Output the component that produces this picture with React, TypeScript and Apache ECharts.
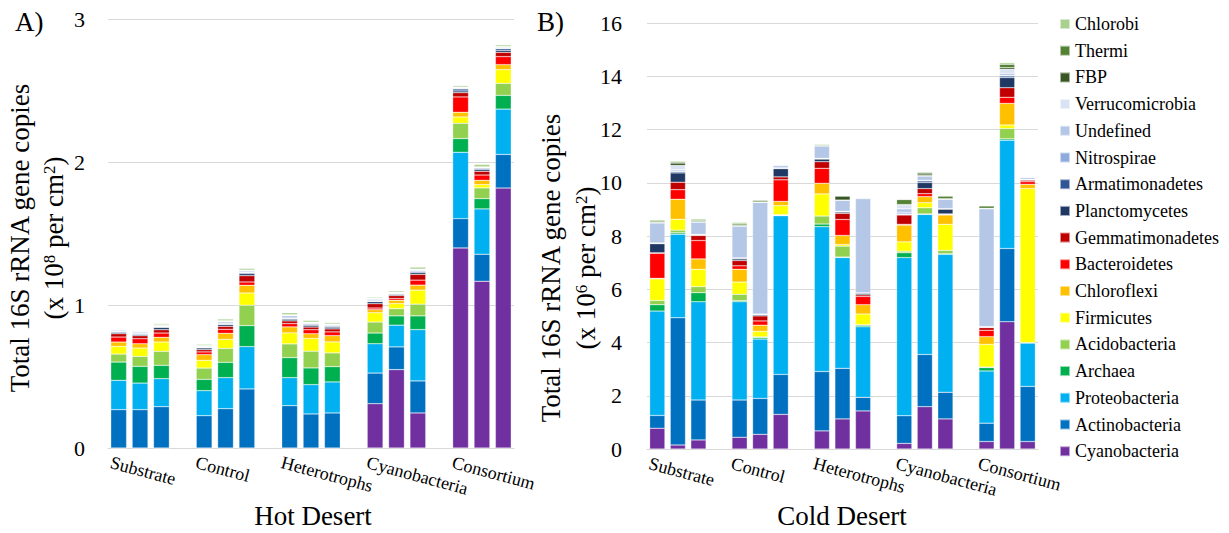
import React, { useEffect, useRef } from "react";
import * as echarts from "echarts";

const phyla = [
  "Cyanobacteria", "Actinobacteria", "Proteobacteria", "Archaea", "Acidobacteria",
  "Firmicutes", "Chloroflexi", "Bacteroidetes", "Gemmatimonadetes", "Planctomycetes",
  "Armatimonadetes", "Nitrospirae", "Undefined", "Verrucomicrobia", "FBP", "Thermi", "Chlorobi",
];
const phylaColors = [
  "#7030A0", "#0070C0", "#00B0F0", "#00B050", "#92D050",
  "#FFFF00", "#FFC000", "#FF0000", "#C00000", "#1F3864",
  "#2F5597", "#8FAADC", "#B4C7E7", "#DAE3F3", "#375623", "#548235", "#A9D18E",
];
const groups = ["Substrate", "Control", "Heterotrophs", "Cyanobacteria", "Consortium"];
const replicates = ["1", "2", "3"];
const hotTicks = [0, 1, 2, 3];
const coldTicks = [0, 2, 4, 6, 8, 10, 12, 14, 16];

// Hot desert (x 10^8 per cm2), bars: S1,S2,S3,C1,C2,C3,H1,H2,H3,Y1,Y2,Y3,K1,K2,K3
const hotCyanobacteria = [0, 0, 0, 0, 0, 0, 0, 0, 0, 0.31, 0.548, 0.245, 1.399, 1.166, 1.818];
const hotActinobacteria = [0.268, 0.268, 0.289, 0.226, 0.275, 0.413, 0.296, 0.238, 0.245, 0.214, 0.159, 0.224, 0.205, 0.189, 0.235];
const hotProteobacteria = [0.205, 0.186, 0.196, 0.175, 0.217, 0.296, 0.196, 0.205, 0.217, 0.205, 0.152, 0.359, 0.464, 0.317, 0.317];
const hotArchaea = [0.128, 0.117, 0.093, 0.079, 0.107, 0.147, 0.14, 0.117, 0.107, 0.075, 0.065, 0.096, 0.096, 0.072, 0.096];
const hotAcidobacteria = [0.056, 0.07, 0.098, 0.079, 0.098, 0.142, 0.096, 0.117, 0.096, 0.077, 0.051, 0.082, 0.107, 0.075, 0.084];
const hotFirmicutes = [0.054, 0.058, 0.065, 0.054, 0.063, 0.086, 0.077, 0.089, 0.077, 0.065, 0.035, 0.098, 0.044, 0.023, 0.096];
const hotChloroflexi = [0.03, 0.03, 0.033, 0.04, 0.042, 0.054, 0.042, 0.033, 0.044, 0.021, 0.023, 0.035, 0.033, 0.03, 0.035];
const hotBacteroidetes = [0.035, 0.035, 0.03, 0.019, 0.028, 0.023, 0.023, 0.028, 0.026, 0.012, 0.012, 0.035, 0.107, 0.037, 0.056];
const hotGemmatimonadetes = [0.023, 0.021, 0.023, 0.016, 0.021, 0.044, 0.019, 0.019, 0.021, 0.03, 0.021, 0.04, 0.03, 0.026, 0.03];
const hotPlanctomycetes = [0.009, 0.008, 0.016, 0.012, 0.012, 0.014, 0.012, 0.012, 0.012, 0.014, 0.008, 0.012, 0.012, 0.012, 0.014];
const hotArmatimonadetes = [0.005, 0.005, 0.004, 0.003, 0.004, 0.007, 0.004, 0.006, 0.006, 0.004, 0.004, 0.007, 0.014, 0.009, 0.012];
const hotNitrospirae = [0.004, 0.005, 0.002, 0.003, 0.006, 0.003, 0.004, 0.006, 0.006, 0.003, 0.002, 0.007, 0.003, 0.002, 0.003];
const hotUndefined = [0.007, 0.008, 0.003, 0.005, 0.01, 0.009, 0.016, 0.004, 0.004, 0.01, 0.004, 0.005, 0.005, 0.003, 0.003];
const hotVerrucomicrobia = [0.004, 0.006, 0.002, 0.003, 0.004, 0.003, 0.004, 0.003, 0.003, 0.004, 0.003, 0.003, 0.002, 0.002, 0.002];
const hotFBP = [0.001, 0.001, 0.004, 0.001, 0.001, 0.001, 0.001, 0.001, 0.001, 0.001, 0.001, 0.001, 0.001, 0.001, 0.004];
const hotThermi = [0.002, 0.002, 0.004, 0.002, 0.002, 0.002, 0.002, 0.002, 0.002, 0.002, 0.002, 0.002, 0.002, 0.002, 0.003];
const hotChlorobi = [0.003, 0.004, 0.008, 0.008, 0.012, 0.012, 0.014, 0.012, 0.01, 0.007, 0.009, 0.014, 0.01, 0.017, 0.011];

// Cold desert (x 10^6 per cm2)
const coldCyanobacteria = [0.78, 0.15, 0.34, 0.44, 0.55, 1.3, 0.68, 1.13, 1.43, 0.21, 1.59, 1.13, 0.28, 4.78, 0.28];
const coldActinobacteria = [0.48, 4.78, 1.5, 1.4, 1.35, 1.5, 2.23, 1.9, 0.51, 1.04, 1.96, 1.0, 0.69, 2.75, 2.07];
const coldProteobacteria = [3.92, 3.14, 3.69, 3.69, 2.23, 5.96, 5.44, 4.16, 2.65, 5.94, 5.26, 5.18, 1.96, 4.07, 1.63];
const coldArchaea = [0.24, 0.05, 0.34, 0.04, 0.06, 0.02, 0.1, 0.02, 0.06, 0.18, 0.02, 0.02, 0.13, 0.05, 0.01];
const coldAcidobacteria = [0.16, 0.1, 0.23, 0.24, 0.02, 0.02, 0.3, 0.41, 0.02, 0.06, 0.23, 0.13, 0.02, 0.39, 0.01];
const coldFirmicutes = [0.81, 0.41, 0.65, 0.46, 0.21, 0.34, 0.83, 0.06, 0.4, 0.35, 0.19, 0.98, 0.85, 0.13, 5.78];
const coldChloroflexi = [0.02, 0.75, 0.39, 0.48, 0.23, 0.16, 0.4, 0.34, 0.35, 0.63, 0.23, 0.35, 0.29, 0.81, 0.16];
const coldBacteroidetes = [0.94, 0.36, 0.69, 0.13, 0.16, 0.81, 0.56, 0.6, 0.31, 0.03, 0.11, 0.02, 0.24, 0.23, 0.1];
const coldGemmatimonadetes = [0.02, 0.28, 0.19, 0.2, 0.19, 0.11, 0.25, 0.23, 0.06, 0.35, 0.19, 0.02, 0.1, 0.36, 0.06];
const coldPlanctomycetes = [0.34, 0.35, 0.02, 0.06, 0.04, 0.31, 0.1, 0.05, 0.06, 0.02, 0.23, 0.18, 0.02, 0.38, 0.01];
const coldArmatimonadetes = [0.02, 0.05, 0.01, 0.03, 0.02, 0.02, 0.02, 0.02, 0.01, 0.02, 0.06, 0.01, 0.01, 0.06, 0.01];
const coldNitrospirae = [0.01, 0.02, 0.01, 0.01, 0.01, 0.01, 0.01, 0.01, 0.01, 0.06, 0.02, 0.01, 0.01, 0.02, 0.01];
const coldUndefined = [0.75, 0.05, 0.46, 1.19, 4.19, 0.08, 0.46, 0.41, 3.53, 0.13, 0.16, 0.35, 4.42, 0.08, 0.06];
const coldVerrucomicrobia = [0.01, 0.16, 0.01, 0.01, 0.01, 0.04, 0.01, 0.01, 0.04, 0.15, 0.02, 0.01, 0.01, 0.15, 0.03];
const coldFBP = [0.01, 0.09, 0.01, 0.01, 0.01, 0.01, 0.01, 0.15, 0.01, 0.01, 0.06, 0.01, 0.01, 0.06, 0.01];
const coldThermi = [0.05, 0.04, 0.05, 0.06, 0.06, 0.01, 0.03, 0.01, 0.01, 0.19, 0.06, 0.1, 0.09, 0.13, 0.01];
const coldChlorobi = [0.05, 0.04, 0.05, 0.06, 0.02, 0.01, 0.03, 0.01, 0.01, 0.01, 0.02, 0.01, 0.01, 0.06, 0.01];

const hotData = [
  hotCyanobacteria, hotActinobacteria, hotProteobacteria, hotArchaea, hotAcidobacteria,
  hotFirmicutes, hotChloroflexi, hotBacteroidetes, hotGemmatimonadetes, hotPlanctomycetes,
  hotArmatimonadetes, hotNitrospirae, hotUndefined, hotVerrucomicrobia, hotFBP, hotThermi, hotChlorobi,
];
const coldData = [
  coldCyanobacteria, coldActinobacteria, coldProteobacteria, coldArchaea, coldAcidobacteria,
  coldFirmicutes, coldChloroflexi, coldBacteroidetes, coldGemmatimonadetes, coldPlanctomycetes,
  coldArmatimonadetes, coldNitrospirae, coldUndefined, coldVerrucomicrobia, coldFBP, coldThermi, coldChlorobi,
];

const FONT = "Liberation Serif";

// categories: 3 replicates per group with an empty slot between groups
const categories: string[] = [];
groups.forEach((g, gi) => {
  replicates.forEach((r) => categories.push(g + " " + r));
  if (gi < groups.length - 1) categories.push("gap " + gi);
});

function expand(vals: number[]): (number | string)[] {
  const out: (number | string)[] = [];
  groups.forEach((_, gi) => {
    for (let r = 0; r < replicates.length; r++) out.push(vals[gi * replicates.length + r]);
    if (gi < groups.length - 1) out.push("-");
  });
  return out;
}

export default function App() {
  const ref = useRef<HTMLDivElement>(null);
  useEffect(() => {
    if (!ref.current) return;
    document.body.style.margin = "0";
    const chart = echarts.init(ref.current, null, { renderer: "svg" });

    const series: any[] = [];
    phyla.forEach((p, i) => {
      const common = {
        type: "bar",
        name: p,
        barWidth: "74%",
        itemStyle: { color: phylaColors[i], borderColor: "rgba(255,255,255,0.55)", borderWidth: 0.5 },
        emphasis: { disabled: true },
      };
      series.push({ ...common, xAxisIndex: 0, yAxisIndex: 0, stack: "hot", data: expand(hotData[i]) });
      series.push({ ...common, xAxisIndex: 1, yAxisIndex: 1, stack: "cold", data: expand(coldData[i]) });
    });

    const xAxisBase = {
      type: "category",
      data: categories,
      axisTick: { show: false },
      axisLabel: { show: false },
      axisLine: { show: true, lineStyle: { color: "#d9d9d9", width: 1 } },
    };
    const yAxisBase = {
      type: "value",
      min: 0,
      axisLine: { show: false },
      axisTick: { show: false },
      splitLine: { show: true, lineStyle: { color: "#d9d9d9", width: 1 } },
    };

    const option: any = {
      animation: false,
      backgroundColor: "#fff",
      textStyle: { fontFamily: FONT, color: "#000" },
      grid: [
        { left: 108, top: 19, width: 406, height: 429 },
        { left: 647, top: 23, width: 391, height: 426 },
      ],
      xAxis: [
        { ...xAxisBase, gridIndex: 0 },
        { ...xAxisBase, gridIndex: 1 },
      ],
      yAxis: [
        {
          ...yAxisBase, gridIndex: 0,
          max: hotTicks[hotTicks.length - 1], interval: hotTicks[1] - hotTicks[0],
          axisLabel: { margin: 23, fontFamily: FONT, fontSize: 22, color: "#000" },
        },
        {
          ...yAxisBase, gridIndex: 1,
          max: coldTicks[coldTicks.length - 1], interval: coldTicks[1] - coldTicks[0],
          axisLabel: { margin: 25, fontFamily: FONT, fontSize: 22, color: "#000" },
        },
      ],
      legend: {
        orient: "vertical",
        left: 1059,
        top: 15,
        padding: 0,
        itemWidth: 10,
        itemHeight: 10,
        itemGap: 8.7,
        icon: "rect",
        data: phyla.slice().reverse(),
        textStyle: { fontFamily: FONT, fontSize: 18, color: "#000" },
        selectedMode: false,
      },
      series,
    };
    chart.setOption(option);

    const textStyle = (text: string, size: number, extra: any = {}) => ({
      text,
      fontFamily: FONT,
      fontSize: size,
      fill: "#000",
      ...extra,
    });
    const sup = { sup: { fontFamily: FONT, fontSize: 17, fill: "#000", verticalAlign: "top" } };

    const graphics: any[] = [
      { type: "text", x: 15, y: 22, style: textStyle("A)", 27, { verticalAlign: "middle" }) },
      { type: "text", x: 537, y: 22, style: textStyle("B)", 27, { verticalAlign: "middle" }) },
      { type: "text", x: 313, y: 516, style: textStyle("Hot Desert", 27, { align: "center", verticalAlign: "middle" }) },
      { type: "text", x: 842, y: 516, style: textStyle("Cold Desert", 27, { align: "center", verticalAlign: "middle" }) },
      {
        type: "text", x: 20, y: 238, rotation: Math.PI / 2,
        style: textStyle("Total 16S rRNA gene copies", 27, { align: "center", verticalAlign: "middle" }),
      },
      {
        type: "text", x: 54, y: 238, rotation: Math.PI / 2,
        style: textStyle("(x 10{sup|8} per cm{sup|2})", 27, { align: "center", verticalAlign: "middle", rich: sup }),
      },
      {
        type: "text", x: 551, y: 268, rotation: Math.PI / 2,
        style: textStyle("Total 16S rRNA gene copies", 27, { align: "center", verticalAlign: "middle" }),
      },
      {
        type: "text", x: 586, y: 268, rotation: Math.PI / 2,
        style: textStyle("(x 10{sup|6} per cm{sup|2})", 27, { align: "center", verticalAlign: "middle", rich: sup }),
      },
    ];

    // group labels, starting at the left edge of each group's first bar
    groups.forEach((g, gi) => {
      const cat = categories[gi * (replicates.length + 1)];
      [0, 1].forEach((axisIdx) => {
        const px = chart.convertToPixel({ xAxisIndex: axisIdx }, cat) as number;
        graphics.push({
          type: "text",
          x: px - 8,
          y: axisIdx === 0 ? 462 : 463,
          rotation: (-15 * Math.PI) / 180,
          style: textStyle(g, 18, { align: "left", verticalAlign: "middle" }),
        });
      });
    });

    chart.setOption({ graphic: graphics });

    return () => chart.dispose();
  }, []);

  return <div ref={ref} style={{ position: "absolute", left: 0, top: 0, width: 1229, height: 533 }} />;
}
